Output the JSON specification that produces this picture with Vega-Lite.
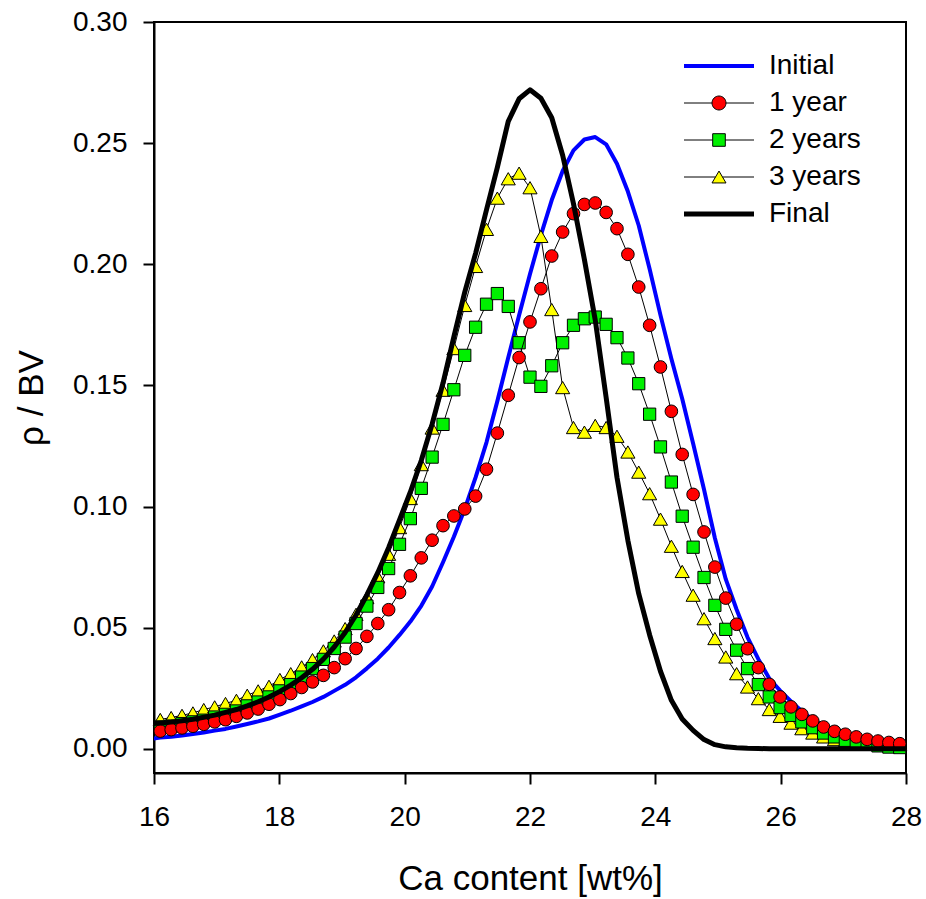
{
  "$schema": "https://vega.github.io/schema/vega-lite/v6.json",
  "width": 752,
  "height": 751,
  "autosize": "none",
  "padding": {"left": 154, "top": 22, "right": 20, "bottom": 126},
  "background": "white",
  "config": {
    "view": {"stroke": "black", "strokeWidth": 2},
    "axis": {
      "domainColor": "black", "domainWidth": 2, "tickColor": "black", "tickWidth": 2, "tickSize": 11,
      "labelFont": "Liberation Sans", "labelFontSize": 28, "labelColor": "black",
      "titleFont": "Liberation Sans", "titleFontSize": 35, "titleFontWeight": "normal", "titleColor": "black",
      "grid": false
    }
  },
  "data": {"values": [
    {"x":15.926,"Initial":0.0040,"Final":0.0103},
    {"x":16.100,"Initial":0.0046,"1 year":0.0073,"2 years":0.0090,"3 years":0.0121,"Final":0.0106},
    {"x":16.274,"Initial":0.0050,"1 year":0.0079,"2 years":0.0094,"3 years":0.0129,"Final":0.0110},
    {"x":16.447,"Initial":0.0055,"1 year":0.0086,"2 years":0.0104,"3 years":0.0138,"Final":0.0116},
    {"x":16.621,"Initial":0.0061,"1 year":0.0093,"2 years":0.0111,"3 years":0.0148,"Final":0.0122},
    {"x":16.794,"Initial":0.0067,"1 year":0.0101,"2 years":0.0118,"3 years":0.0162,"Final":0.0130},
    {"x":16.968,"Initial":0.0075,"1 year":0.0111,"2 years":0.0131,"3 years":0.0173,"Final":0.0139},
    {"x":17.141,"Initial":0.0082,"1 year":0.0120,"2 years":0.0142,"3 years":0.0187,"Final":0.0150},
    {"x":17.315,"Initial":0.0092,"1 year":0.0134,"2 years":0.0156,"3 years":0.0200,"Final":0.0162},
    {"x":17.488,"Initial":0.0102,"1 year":0.0148,"2 years":0.0177,"3 years":0.0221,"Final":0.0177},
    {"x":17.662,"Initial":0.0113,"1 year":0.0164,"2 years":0.0193,"3 years":0.0239,"Final":0.0194},
    {"x":17.835,"Initial":0.0125,"1 year":0.0184,"2 years":0.0214,"3 years":0.0258,"Final":0.0214},
    {"x":18.009,"Initial":0.0141,"1 year":0.0203,"2 years":0.0239,"3 years":0.0286,"Final":0.0237},
    {"x":18.182,"Initial":0.0157,"1 year":0.0228,"2 years":0.0265,"3 years":0.0310,"Final":0.0263},
    {"x":18.356,"Initial":0.0175,"1 year":0.0253,"2 years":0.0296,"3 years":0.0338,"Final":0.0293},
    {"x":18.529,"Initial":0.0193,"1 year":0.0276,"2 years":0.0331,"3 years":0.0368,"Final":0.0328},
    {"x":18.703,"Initial":0.0214,"1 year":0.0303,"2 years":0.0369,"3 years":0.0404,"Final":0.0370},
    {"x":18.876,"Initial":0.0239,"1 year":0.0335,"2 years":0.0414,"3 years":0.0445,"Final":0.0420},
    {"x":19.050,"Initial":0.0264,"1 year":0.0372,"2 years":0.0461,"3 years":0.0496,"Final":0.0480},
    {"x":19.224,"Initial":0.0295,"1 year":0.0414,"2 years":0.0517,"3 years":0.0555,"Final":0.0552},
    {"x":19.397,"Initial":0.0332,"1 year":0.0464,"2 years":0.0589,"3 years":0.0624,"Final":0.0635},
    {"x":19.571,"Initial":0.0372,"1 year":0.0517,"2 years":0.0666,"3 years":0.0710,"Final":0.0727},
    {"x":19.744,"Initial":0.0418,"1 year":0.0574,"2 years":0.0744,"3 years":0.0803,"Final":0.0830},
    {"x":19.918,"Initial":0.0470,"1 year":0.0645,"2 years":0.0844,"3 years":0.0913,"Final":0.0945},
    {"x":20.091,"Initial":0.0525,"1 year":0.0714,"2 years":0.0950,"3 years":0.1033,"Final":0.1060},
    {"x":20.265,"Initial":0.0590,"1 year":0.0788,"2 years":0.1075,"3 years":0.1173,"Final":0.1190},
    {"x":20.438,"Initial":0.0670,"1 year":0.0861,"2 years":0.1204,"3 years":0.1324,"Final":0.1340},
    {"x":20.612,"Initial":0.0770,"1 year":0.0921,"2 years":0.1339,"3 years":0.1480,"Final":0.1510},
    {"x":20.785,"Initial":0.0875,"1 year":0.0961,"2 years":0.1482,"3 years":0.1652,"Final":0.1700},
    {"x":20.959,"Initial":0.0990,"1 year":0.0990,"2 years":0.1624,"3 years":0.1830,"Final":0.1885},
    {"x":21.132,"Initial":0.1120,"1 year":0.1043,"2 years":0.1740,"3 years":0.1991,"Final":0.2045},
    {"x":21.306,"Initial":0.1265,"1 year":0.1154,"2 years":0.1835,"3 years":0.2144,"Final":0.2225},
    {"x":21.479,"Initial":0.1435,"1 year":0.1303,"2 years":0.1879,"3 years":0.2273,"Final":0.2400},
    {"x":21.653,"Initial":0.1615,"1 year":0.1459,"2 years":0.1826,"3 years":0.2353,"Final":0.2590},
    {"x":21.826,"Initial":0.1790,"1 year":0.1615,"2 years":0.1676,"3 years":0.2376,"Final":0.2683},
    {"x":22.000,"Initial":0.1960,"1 year":0.1762,"2 years":0.1534,"3 years":0.2316,"Final":0.2720},
    {"x":22.174,"Initial":0.2120,"1 year":0.1899,"2 years":0.1496,"3 years":0.2115,"Final":0.2685},
    {"x":22.347,"Initial":0.2265,"1 year":0.2034,"2 years":0.1581,"3 years":0.1813,"Final":0.2605},
    {"x":22.521,"Initial":0.2385,"1 year":0.2133,"2 years":0.1676,"3 years":0.1491,"Final":0.2450},
    {"x":22.694,"Initial":0.2470,"1 year":0.2209,"2 years":0.1748,"3 years":0.1326,"Final":0.2250},
    {"x":22.868,"Initial":0.2515,"1 year":0.2247,"2 years":0.1775,"3 years":0.1307,"Final":0.2020},
    {"x":23.041,"Initial":0.2525,"1 year":0.2253,"2 years":0.1782,"3 years":0.1335,"Final":0.1770},
    {"x":23.215,"Initial":0.2495,"1 year":0.2214,"2 years":0.1752,"3 years":0.1326,"Final":0.1450},
    {"x":23.388,"Initial":0.2415,"1 year":0.2147,"2 years":0.1697,"3 years":0.1290,"Final":0.1120},
    {"x":23.562,"Initial":0.2300,"1 year":0.2041,"2 years":0.1613,"3 years":0.1225,"Final":0.0860},
    {"x":23.735,"Initial":0.2160,"1 year":0.1906,"2 years":0.1507,"3 years":0.1142,"Final":0.0640},
    {"x":23.909,"Initial":0.1980,"1 year":0.1748,"2 years":0.1381,"3 years":0.1053,"Final":0.0470},
    {"x":24.082,"Initial":0.1790,"1 year":0.1576,"2 years":0.1246,"3 years":0.0948,"Final":0.0320},
    {"x":24.256,"Initial":0.1610,"1 year":0.1393,"2 years":0.1101,"3 years":0.0836,"Final":0.0200},
    {"x":24.429,"Initial":0.1445,"1 year":0.1215,"2 years":0.0960,"3 years":0.0732,"Final":0.0123},
    {"x":24.603,"Initial":0.1260,"1 year":0.1050,"2 years":0.0832,"3 years":0.0634,"Final":0.0076},
    {"x":24.777,"Initial":0.1070,"1 year":0.0895,"2 years":0.0707,"3 years":0.0537,"Final":0.0038},
    {"x":24.950,"Initial":0.0870,"1 year":0.0750,"2 years":0.0592,"3 years":0.0455,"Final":0.0017},
    {"x":25.124,"Initial":0.0700,"1 year":0.0622,"2 years":0.0493,"3 years":0.0379,"Final":0.0008},
    {"x":25.297,"Initial":0.0575,"1 year":0.0514,"2 years":0.0407,"3 years":0.0310,"Final":0.0004},
    {"x":25.471,"Initial":0.0460,"1 year":0.0413,"2 years":0.0331,"3 years":0.0255,"Final":0.0002},
    {"x":25.644,"Initial":0.0370,"1 year":0.0335,"2 years":0.0265,"3 years":0.0207,"Final":0.0001},
    {"x":25.818,"Initial":0.0290,"1 year":0.0266,"2 years":0.0214,"3 years":0.0162,"Final":0.0},
    {"x":25.991,"Initial":0.0240,"1 year":0.0214,"2 years":0.0170,"3 years":0.0134,"Final":0.0},
    {"x":26.165,"Initial":0.0195,"1 year":0.0173,"2 years":0.0138,"3 years":0.0106,"Final":0.0},
    {"x":26.338,"Initial":0.0155,"1 year":0.0142,"2 years":0.0111,"3 years":0.0083,"Final":0.0},
    {"x":26.512,"Initial":0.0120,"1 year":0.0115,"2 years":0.0087,"3 years":0.0065,"Final":0.0},
    {"x":26.685,"Initial":0.0095,"1 year":0.0090,"2 years":0.0065,"3 years":0.0049,"Final":0.0},
    {"x":26.859,"Initial":0.0075,"1 year":0.0072,"2 years":0.0049,"3 years":0.0038,"Final":0.0},
    {"x":27.032,"Initial":0.0060,"1 year":0.0060,"2 years":0.0035,"3 years":0.0031,"Final":0.0},
    {"x":27.206,"Initial":0.0048,"1 year":0.0049,"2 years":0.0026,"3 years":0.0026,"Final":0.0},
    {"x":27.380,"Initial":0.0038,"1 year":0.0039,"2 years":0.0019,"3 years":0.0021,"Final":0.0},
    {"x":27.553,"Initial":0.0030,"1 year":0.0032,"2 years":0.0012,"3 years":0.0019,"Final":0.0},
    {"x":27.727,"Initial":0.0024,"1 year":0.0026,"2 years":0.0007,"3 years":0.0017,"Final":0.0},
    {"x":27.900,"Initial":0.0019,"1 year":0.0021,"2 years":0.0005,"3 years":0.0017,"Final":0.0},
    {"x":28.074,"Initial":0.0015,"Final":0.0}
  ]},
  "transform": [
    {"fold": ["Initial", "1 year", "2 years", "3 years", "Final"], "as": ["s", "y"]},
    {"filter": "isValid(datum.y)"}
  ],
  "encoding": {
    "x": {"field": "x", "type": "quantitative",
      "scale": {"domain": [16, 28], "nice": false, "zero": false},
      "axis": {"title": "Ca content [wt%]", "values": [16, 18, 20, 22, 24, 26, 28], "format": "d", "labelFlush": false, "labelPadding": 19, "titlePadding": 30}},
    "y": {"field": "y", "type": "quantitative",
      "scale": {"domain": [-0.01, 0.3], "nice": false, "zero": false},
      "axis": {"title": "ρ / BV", "values": [0, 0.05, 0.1, 0.15, 0.2, 0.25, 0.3], "format": ".2f", "labelPadding": 16, "titlePadding": 23}}
  },
  "layer": [
    {
      "transform": [{"filter": "datum.s === 'Initial'"}],
      "mark": {"type": "line", "strokeWidth": 4, "clip": true, "strokeJoin": "round"},
      "encoding": {
        "stroke": {"field": "s", "type": "nominal",
          "scale": {"domain": ["Initial", "1 year", "2 years", "3 years", "Final"], "range": ["#0000ff", "#000000", "#000000", "#000000", "#000000"]},
          "legend": {
            "title": null, "orient": "none", "legendX": 531, "legendY": 30, "padding": 0,
            "symbolSize": 4900, "symbolStrokeWidth": 1, "symbolOffset": 20,
            "labelFont": "Liberation Sans", "labelFontSize": 28, "labelColor": "black", "labelOffset": 36,
            "rowPadding": 9,
            "encode": {
              "symbols": {
                "update": {
                  "size": {"value": 4900},
                  "shape": {"signal": "datum.value === '1 year' ? 'M-1,0H-0.2M0.2,0H1M-0.2,0A0.2,0.2,0,1,0,0.2,0A0.2,0.2,0,1,0,-0.2,0Z' : datum.value === '2 years' ? 'M-1,0H-0.18M0.18,0H1M-0.18,-0.18H0.18V0.18H-0.18Z' : datum.value === '3 years' ? 'M-1,0H-0.1M0.1,0H1M0,-0.17L0.2,0.17L-0.2,0.17Z' : 'M-1,0H1'"},
                  "fill": {"signal": "datum.value === '1 year' ? '#ff0000' : datum.value === '2 years' ? '#00f000' : datum.value === '3 years' ? '#ffff00' : 'transparent'"},
                  "stroke": {"signal": "datum.value === 'Initial' ? '#0000ff' : '#000000'"},
                  "strokeWidth": {"signal": "datum.value === 'Initial' ? 4 : datum.value === 'Final' ? 5 : 1"},
                  "opacity": {"value": 1}
                }
              }
            }
          }
        }
      }
    },
    {
      "transform": [{"filter": "datum.s === '3 years'"}],
      "mark": {"type": "line", "strokeWidth": 1, "clip": true},
      "encoding": {"stroke": {"field": "s", "type": "nominal"}}
    },
    {
      "transform": [{"filter": "datum.s === '3 years'"}],
      "mark": {"type": "point", "shape": "triangle-up", "filled": true, "fill": "#ffff00", "stroke": "#000000", "strokeWidth": 1, "size": 200, "opacity": 1}
    },
    {
      "transform": [{"filter": "datum.s === '2 years'"}],
      "mark": {"type": "line", "strokeWidth": 1, "clip": true},
      "encoding": {"stroke": {"field": "s", "type": "nominal"}}
    },
    {
      "transform": [{"filter": "datum.s === '2 years'"}],
      "mark": {"type": "point", "shape": "square", "filled": true, "fill": "#00f000", "stroke": "#000000", "strokeWidth": 1, "size": 150, "opacity": 1}
    },
    {
      "transform": [{"filter": "datum.s === '1 year'"}],
      "mark": {"type": "line", "strokeWidth": 1, "clip": true},
      "encoding": {"stroke": {"field": "s", "type": "nominal"}}
    },
    {
      "transform": [{"filter": "datum.s === '1 year'"}],
      "mark": {"type": "point", "shape": "circle", "filled": true, "fill": "#ff0000", "stroke": "#000000", "strokeWidth": 1, "size": 160, "opacity": 1}
    },
    {
      "transform": [{"filter": "datum.s === 'Final'"}],
      "mark": {"type": "line", "strokeWidth": 5, "clip": true, "strokeJoin": "round"},
      "encoding": {"stroke": {"field": "s", "type": "nominal"}}
    }
  ]
}
